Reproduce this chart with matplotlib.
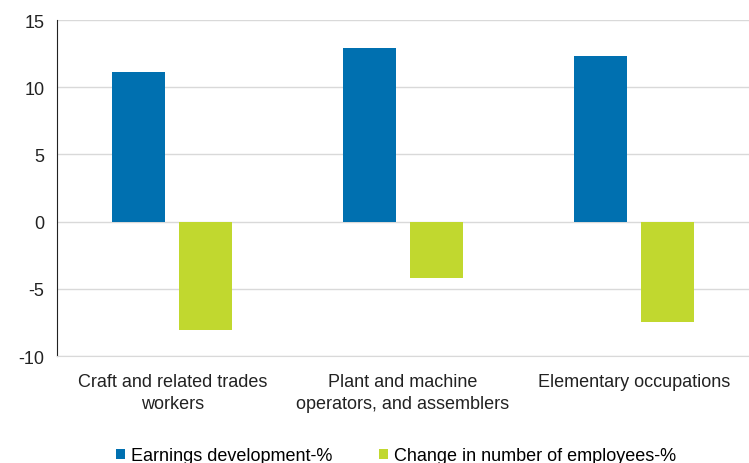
import matplotlib.pyplot as plt
import numpy as np

plt.rcParams['font.family'] = ['Liberation Sans', 'DejaVu Sans']
plt.rcParams['axes.unicode_minus'] = False

categories = ['Craft and related trades\nworkers',
              'Plant and machine\noperators, and assemblers',
              'Elementary occupations']
earnings = [11.1, 12.9, 12.3]
employees = [-8.1, -4.2, -7.5]
series_names = ['Earnings development-%', 'Change in number of employees-%']

blue = '#0070B0'
green = '#C1D82F'

fig = plt.figure(figsize=(7.49, 4.64), dpi=100)
ax = fig.add_axes([0.076, 0.2306, 0.924, 0.7241])

x = np.arange(len(categories))
w = 0.23
ax.bar(x - 0.145, earnings, w, color=blue, label=series_names[0], zorder=3)
ax.bar(x + 0.145, employees, w, color=green, label=series_names[1], zorder=3)

ax.set_xlim(-0.5, 2.5)
ax.set_ylim(-10, 15)
ax.set_yticks(range(-10, 16, 5))
ax.yaxis.grid(True, color='#d9d9d9', linewidth=1)
ax.set_axisbelow(True)

for s in ['top', 'right']:
    ax.spines[s].set_visible(False)
ax.spines['bottom'].set_color('#d9d9d9')
ax.spines['left'].set_color('#222222')

ax.set_xticks(x)
ax.set_xticklabels(categories, fontsize=13, color='#222222', linespacing=1.4)
ax.tick_params(axis='x', length=0, pad=12)
ax.tick_params(axis='y', length=0, labelsize=13, labelcolor='#222222', pad=9)

ax.legend(loc='lower center', bbox_to_anchor=(0.49, -0.37), ncol=2, frameon=False,
          fontsize=13, handlelength=0.5, handleheight=0.5, handletextpad=0.3,
          columnspacing=2.6)

fig.savefig('out.png', dpi=100)
